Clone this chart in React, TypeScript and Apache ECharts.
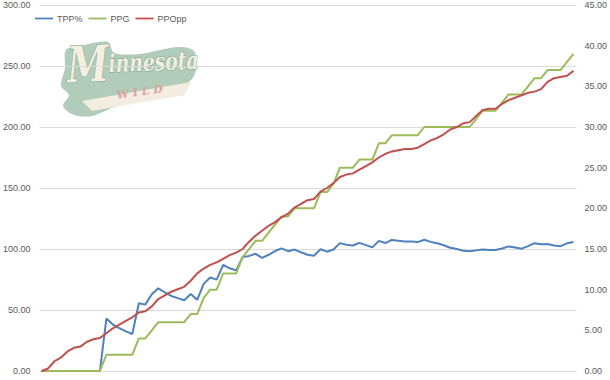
import React, { useEffect, useRef } from "react";
import * as echarts from "echarts";

const seriesNames = ["TPP%", "PPG", "PPOpp"];

// game index 0 .. 82 (0 = season start)
const games: number[] = Array.from({ length: 83 }, (_, i) => i);

const tppPct = [
  0, 0, 0, 0, 0, 0, 0, 0, 0, 0,
  6.45, 5.71, 5.26, 4.88, 4.55, 8.33, 8.16, 9.43, 10.17, 9.68,
  9.23, 8.96, 8.7, 9.46, 8.75, 10.71, 11.49, 11.24, 13.04, 12.63,
  12.37, 14.0, 14.15, 14.41, 13.91, 14.29, 14.75, 15.08, 14.73, 14.93,
  14.6, 14.29, 14.18, 14.97, 14.67, 14.94, 15.72, 15.53, 15.43, 15.76,
  15.48, 15.2, 16.0, 15.73, 16.11, 16.02, 15.93, 15.93, 15.85, 16.13,
  15.87, 15.71, 15.46, 15.15, 15.0, 14.78, 14.71, 14.83, 14.95, 14.88,
  14.88, 15.07, 15.32, 15.18, 15.04, 15.35, 15.72, 15.58, 15.61, 15.42,
  15.35, 15.7, 15.85,
];

const ppg = [
  0, 0, 0, 0, 0, 0, 0, 0, 0, 0,
  2, 2, 2, 2, 2, 4, 4, 5, 6, 6,
  6, 6, 6, 7, 7, 9, 10, 10, 12, 12,
  12, 14, 15, 16, 16, 17, 18, 19, 19, 20,
  20, 20, 20, 22, 22, 23, 25, 25, 25, 26,
  26, 26, 28, 28, 29, 29, 29, 29, 29, 30,
  30, 30, 30, 30, 30, 30, 30, 31, 32, 32,
  32, 33, 34, 34, 34, 35, 36, 36, 37, 37,
  37, 38, 39,
];

const ppOpp = [
  0, 2, 8, 11, 16, 19, 20, 24, 26, 27,
  31, 35, 38, 41, 44, 48, 49, 53, 59, 62,
  65, 67, 69, 74, 80, 84, 87, 89, 92, 95,
  97, 100, 106, 111, 115, 119, 122, 126, 129, 134,
  137, 140, 141, 147, 150, 154, 159, 161, 162, 165,
  168, 171, 175, 178, 180, 181, 182, 182, 183, 186,
  189, 191, 194, 198, 200, 203, 204, 209, 214, 215,
  215, 219, 222, 224, 226, 228, 229, 231, 237, 240,
  241, 242, 246,
];

const leftTicks = { min: 0, max: 300, interval: 50 };
const rightTicks = { min: 0, max: 45, interval: 5 };

const colors = ["#4f81bd", "#9bbb59", "#c0504d"];

export default function App() {
  const ref = useRef<HTMLDivElement>(null);
  useEffect(() => {
    if (!ref.current) return;
    const chart = echarts.init(ref.current, null, { renderer: "svg" });
    const pair = (arr: number[]) => games.map((g, i) => [g, arr[i]]);
    const labelStyle = {
      color: "#595959",
      fontSize: 9,
      fontFamily: "Liberation Sans",
    };
    const lineIcon = "path://M0,0 H20 V2 H0 Z";
    const logoFont = {
      fontFamily: "DejaVu Serif",
      fontStyle: "italic",
      fontWeight: "bold",
      fill: "#f5efe3",
      stroke: "#6f9b7e",
      lineWidth: 1,
    };
    chart.setOption({
      animation: false,
      backgroundColor: "#ffffff",
      grid: { left: 38, right: 32, top: 5, bottom: 9, containLabel: false },
      legend: {
        data: seriesNames.map((n) => ({ name: n, icon: lineIcon })),
        left: 30,
        top: 9,
        itemWidth: 18,
        itemHeight: 2,
        itemGap: 6,
        textStyle: { ...labelStyle, padding: [0, 0, 0, -1] },
      },
      xAxis: {
        type: "value",
        min: -0.3065,
        max: 82.46,
        axisLabel: { show: false },
        axisTick: { show: false },
        axisLine: { show: false },
        splitLine: { show: false },
      },
      yAxis: [
        {
          type: "value",
          ...leftTicks,
          position: "left",
          axisLabel: { ...labelStyle, margin: 9, formatter: (v: number) => v.toFixed(2) },
          axisTick: { show: false },
          axisLine: { show: false },
          splitLine: { show: true, lineStyle: { color: "#d9d9d9", width: 1 } },
        },
        {
          type: "value",
          ...rightTicks,
          position: "right",
          axisLabel: { ...labelStyle, margin: 8, formatter: (v: number) => v.toFixed(2) },
          axisTick: { show: false },
          axisLine: { show: false },
          splitLine: { show: false },
        },
      ],
      series: [
        {
          name: "TPP%",
          type: "line",
          yAxisIndex: 1,
          data: pair(tppPct),
          symbol: "none",
          lineStyle: { color: colors[0], width: 2 },
          itemStyle: { color: colors[0] },
        },
        {
          name: "PPG",
          type: "line",
          yAxisIndex: 1,
          data: pair(ppg),
          symbol: "none",
          lineStyle: { color: colors[1], width: 2 },
          itemStyle: { color: colors[1] },
        },
        {
          name: "PPOpp",
          type: "line",
          yAxisIndex: 0,
          data: pair(ppOpp),
          symbol: "none",
          lineStyle: { color: colors[2], width: 2 },
          itemStyle: { color: colors[2] },
        },
      ],
      graphic: [
        {
          type: "group",
          z: 0,
          children: [
            {
              type: "polygon",
              shape: {
                points: [
                  [66, 50], [84, 45], [108, 42], [114, 53], [140, 54], [160, 50],
                  [178, 47], [193, 50], [197, 62], [194, 76], [186, 84], [168, 92],
                  [140, 100], [112, 108], [92, 116], [74, 115], [63, 106], [69, 95],
                  [61, 86], [65, 68],
                ],
                smooth: 0.3,
              },
              style: { fill: "#a9c7b3", opacity: 0.9 },
            },
            {
              type: "polygon",
              shape: {
                points: [[82, 101], [191, 82], [185, 95], [92, 111]],
              },
              style: { fill: "#f3ece0" },
            },
            {
              type: "text",
              x: 66,
              y: 40,
              scaleX: 0.75,
              rotation: 0.04,
              style: {
                text: "{a|M}{b|innesota}",
                rich: {
                  a: { ...logoFont, fontSize: 50 },
                  b: { ...logoFont, fontSize: 25 },
                },
              },
            },
            {
              type: "text",
              x: 116,
              y: 90,
              rotation: 0.15,
              style: {
                text: "W I L D",
                fontFamily: "DejaVu Serif",
                fontStyle: "italic",
                fontWeight: "bold",
                fontSize: 11,
                fill: "#d9a3a0",
              },
            },
          ],
        },
      ],
    });
    return () => chart.dispose();
  }, []);
  return (
    <div
      ref={ref}
      style={{ position: "fixed", left: 0, top: 0, width: 610, height: 380 }}
    />
  );
}
